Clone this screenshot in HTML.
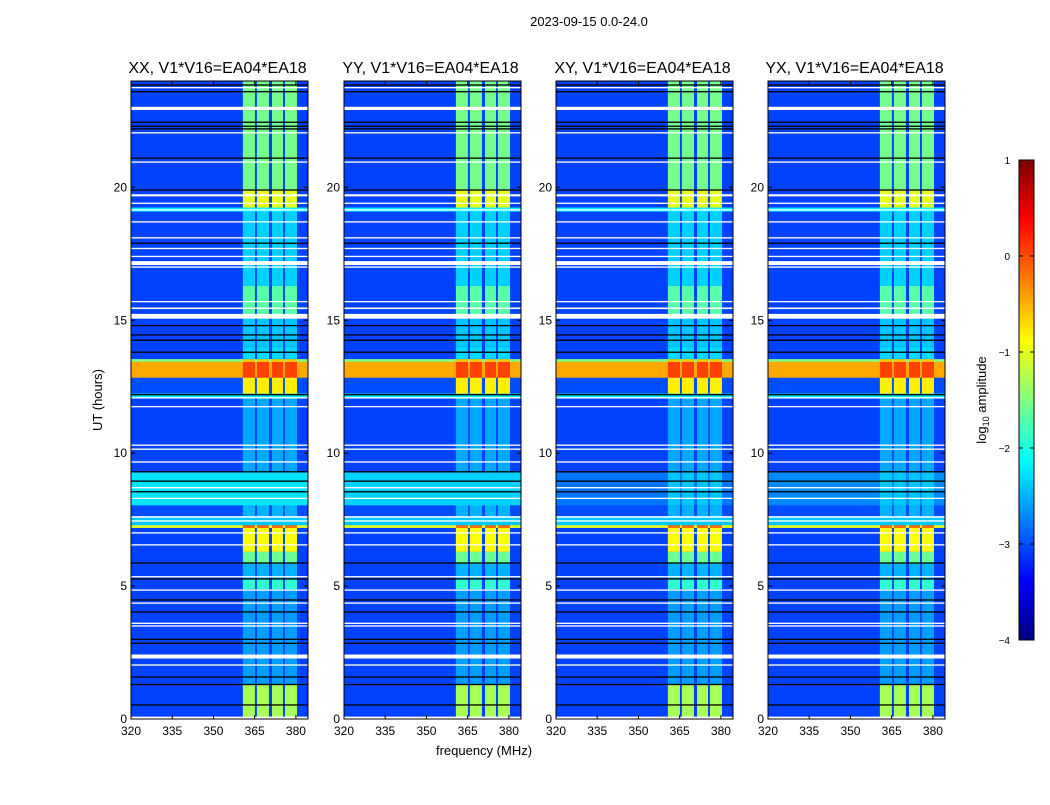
<!DOCTYPE html>
<html><head><meta charset="utf-8"><style>
body{margin:0;background:#fff;}
svg text{font-family:"Liberation Sans",sans-serif;}
</style></head><body>
<svg id="fig" width="1050" height="800" xmlns="http://www.w3.org/2000/svg">
<text x="589" y="26" font-size="13" text-anchor="middle">2023-09-15 0.0-24.0</text>
<text x="102" y="400" font-size="13" text-anchor="middle" transform="rotate(-90 102 400)">UT (hours)</text>
<text x="484" y="755" font-size="13" text-anchor="middle">frequency (MHz)</text>
<text x="986" y="400" font-size="13" text-anchor="middle" transform="rotate(-90 986 400)">log<tspan font-size="9" dy="3">10</tspan><tspan dy="-3"> amplitude</tspan></text>
</svg>
<script>
const panelTitles=["XX, V1*V16=EA04*EA18","YY, V1*V16=EA04*EA18","XY, V1*V16=EA04*EA18","YX, V1*V16=EA04*EA18"];
const panelLefts=[131,344,556,768];
const xTicks=[320,335,350,365,380];
const yTicks=[0,5,10,15,20];
const cbTicks=[1,0,-1,-2,-3,-4];
const cbTickLabels=["1","0","\u22121","\u22122","\u22123","\u22124"];
// time segments: start hour, end hour, background log amp, RFI-channel log amp
const segStart=[0,1.3,4.9,5.3,5.85,6.3,7.2,7.3,7.6,8.05,9.3,12.1,12.25,12.85,13.45,13.55,14.0,15.2,16.3,19.1,19.25,19.9];
const segEnd=[1.3,4.9,5.3,5.85,6.3,7.2,7.3,7.6,8.05,9.3,12.1,12.25,12.85,13.45,13.55,14.0,15.2,16.3,19.1,19.25,19.9,24.0];
const segBg=[-3.05,-3.05,-3.05,-3.05,-3.05,-3.05,-1.0,-2.4,-3.0,-2.35,-3.05,-2.2,-3.0,-0.45,-1.5,-3.05,-3.05,-3.05,-3.05,-2.2,-3.05,-3.05];
const segRfi=[-1.3,-2.6,-1.9,-2.5,-1.6,-0.9,-0.1,-2.4,-2.5,-2.4,-2.55,-2.2,-0.8,0.05,-0.6,-2.3,-2.4,-1.7,-2.35,-2.1,-1.0,-1.55];
// panel-specific level of the 8-9.3 h band
const bandLevel=[-2.25,-2.35,-2.8,-2.7];
const rfiLo=[360.7,365.8,371.3,376.0];
const rfiHi=[365.1,370.2,375.3,380.4];
const whiteHours=[0.05,2.03,2.35,3.5,3.6,4.36,4.85,5.35,6.55,7.0,7.45,7.6,8.3,8.7,9.67,10.15,10.3,11.75,12.08,15.15,15.45,15.7,17.0,17.15,17.4,17.7,18.1,18.7,19.15,19.4,19.7,20.95,22.05,22.97,23.75];
const whiteWidth=[0.08,0.05,0.15,0.05,0.05,0.05,0.05,0.05,0.05,0.05,0.05,0.06,0.05,0.05,0.05,0.05,0.05,0.05,0.05,0.18,0.06,0.05,0.05,0.15,0.05,0.05,0.05,0.05,0.05,0.05,0.08,0.05,0.05,0.12,0.05];
const blackHours=[0.53,1.3,1.58,2.85,3.0,4.03,4.48,5.27,5.87,8.55,8.95,9.3,12.2,13.8,14.25,14.45,14.8,17.9,19.9,21.1,22.2,22.3,22.45,23.6,23.85];

function jet(v){let t=(v+4)/5;t=Math.max(0,Math.min(1,t));
 const f=x=>Math.round(255*Math.max(0,Math.min(1,x)));
 return `rgb(${f(1.5-Math.abs(4*t-3))},${f(1.5-Math.abs(4*t-2))},${f(1.5-Math.abs(4*t-1))})`;}
const svg=document.getElementById('fig');const NS="http://www.w3.org/2000/svg";
function mk(tag,attrs,parent){const e=document.createElementNS(NS,tag);for(const k in attrs)e.setAttribute(k,attrs[k]);(parent||svg).appendChild(e);return e;}
const top0=81,bot0=719,pw=177;
const yS=h=>bot0-(h/24)*(bot0-top0);
const xMin=320,xMax=384.4;
panelTitles.forEach((title,p)=>{
 const L=panelLefts[p];const xS=f=>L+(f-xMin)/(xMax-xMin)*pw;
 const g=mk('g',{});
 
 
 for(let i=0;i<segStart.length;i++){
  let bg=segBg[i]; if(segStart[i]===8.05) bg=bandLevel[p];
  const y1=yS(segEnd[i]),y2=yS(segStart[i]);
  const r=mk('rect',{x:L,y:y1,width:pw,height:y2-y1+0.3,fill:jet(bg)},g);
  
  
  for(let c=0;c<rfiLo.length;c++){
   const cr=mk('rect',{x:xS(rfiLo[c]),y:y1,width:xS(rfiHi[c])-xS(rfiLo[c]),height:y2-y1+0.3,fill:jet(Math.max(bg,segRfi[i]))},g);
   
   
  }
 }
 whiteHours.forEach((h,i)=>{const w=Math.max(1.3,whiteWidth[i]*26.58);
  const r=mk('rect',{x:L,y:yS(h)-w/2,width:pw,height:w,fill:'#fff'},g);
  
  });
 blackHours.forEach(h=>{const r=mk('rect',{x:L,y:yS(h)-0.6,width:pw,height:1.3,fill:'#000'},g);
  
  });
 const fr=mk('rect',{x:L,y:top0,width:pw,height:bot0-top0,fill:'none',stroke:'#000','stroke-width':1},g);
 
 
 xTicks.forEach(t=>{const x=xS(t);
  mk('line',{x1:x,x2:x,y1:bot0,y2:bot0-4,stroke:'#000'},g);mk('line',{x1:x,x2:x,y1:top0,y2:top0+4,stroke:'#000'},g);
  const tx=mk('text',{x:x,y:bot0+16,'font-size':12,'text-anchor':'middle'},g);tx.textContent=t;
  
  });
 yTicks.forEach(t=>{const y=yS(t);
  mk('line',{x1:L,x2:L+4,y1:y,y2:y,stroke:'#000'},g);mk('line',{x1:L+pw,x2:L+pw-4,y1:y,y2:y,stroke:'#000'},g);
  const tx=mk('text',{x:L-4,y:y+4,'font-size':12,'text-anchor':'end'},g);tx.textContent=t;
  
  });
 const tt=mk('text',{x:L+pw/2-2,y:73,'font-size':16,'text-anchor':'middle'},g);tt.textContent=title;
 
 
});
// colorbar
const cbX=1019,cbW=15,cbTop=160,cbBot=640;
const cbS=v=>cbBot-(v+4)/5*(cbBot-cbTop);
const cb=mk('g',{});


for(let i=0;i<120;i++){const v0=-4+5*i/120,v1=-4+5*(i+1)/120;
 mk('rect',{x:cbX,y:cbS(v1),width:cbW,height:cbS(v0)-cbS(v1)+0.5,fill:jet((v0+v1)/2)},cb);}
mk('rect',{x:cbX,y:cbTop,width:cbW,height:cbBot-cbTop,fill:'none',stroke:'#000'},cb);
cbTicks.forEach((v,i)=>{const y=cbS(v);
 mk('line',{x1:cbX,x2:cbX+4,y1:y,y2:y,stroke:'#000'},cb);mk('line',{x1:cbX+cbW,x2:cbX+cbW-4,y1:y,y2:y,stroke:'#000'},cb);
 const tx=mk('text',{x:1010,y:y+4,'font-size':10,'text-anchor':'end'},cb);tx.textContent=cbTickLabels[i];
 
 });
</script>
</body></html>
